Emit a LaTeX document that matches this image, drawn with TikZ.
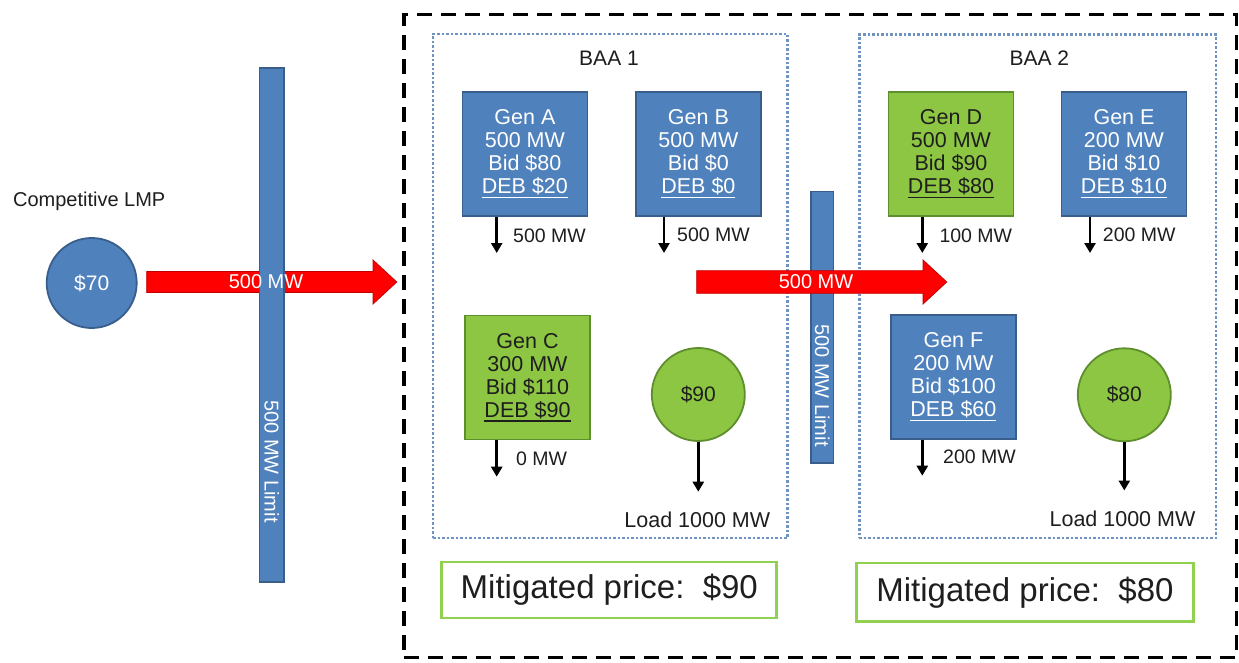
\documentclass[tikz,border=0pt]{standalone}
\usepackage{fontspec}
\setmainfont{Liberation Sans}
\usetikzlibrary{arrows.meta}
\definecolor{gblue}{HTML}{4F81BD}
\definecolor{gblueb}{HTML}{3A5E8C}
\definecolor{ggreen}{HTML}{8DC642}
\definecolor{ggreenb}{HTML}{5E8E2E}
\definecolor{mgreen}{HTML}{92D050}
\definecolor{dotblue}{HTML}{6F93C0}
\definecolor{txt}{HTML}{1E1E1E}
\definecolor{redfill}{HTML}{FF0000}
\definecolor{redline}{HTML}{C00000}
\newcommand\debul[1]{\vtop{\hbox{#1}\kern1.2pt\hrule height 1.4pt}}
\newcommand\fsz[2]{\fontsize{#1}{#2}\selectfont}
\begin{document}
\begin{tikzpicture}[x=1pt,y=-1pt,
  genbox/.style={draw, line width=1.8pt, minimum width=125pt, minimum height=124pt,
    align=center, inner sep=0pt, font=\fsz{21.5}{23}},
  genblue/.style={genbox, fill=gblue, draw=gblueb, text=white},
  gengreen/.style={genbox, fill=ggreen, draw=ggreenb, text=txt},
  flow/.style={line width=2.8pt, draw=black, -{Triangle[width=11pt,length=10pt]}},
  mwlab/.style={anchor=west, inner sep=0pt, font=\fsz{19.5}{22}, text=txt},
  loadlab/.style={inner sep=0pt, font=\fsz{21.5}{24}, text=txt},
  price/.style={circle, minimum size=93pt, line width=1.8pt, inner sep=0pt, font=\fsz{21}{24}},
  limbar/.style={draw=gblueb, fill=gblue, line width=1.2pt, inner sep=0pt},
  bartext/.style={rotate=-90, text=white, inner sep=0pt, font=\fsz{20}{22}},
  flowtext/.style={text=white, inner sep=0pt, font=\fsz{20}{22}},
  redarr/.style={fill=redfill, draw=redline, line width=0.8pt},
  dotbox/.style={draw=dotblue, line width=2.5pt, dash pattern=on 2.5pt off 2pt, inner sep=0pt},
  outerbox/.style={draw=black, line width=3.2pt, dash pattern=on 15pt off 9pt, inner sep=0pt},
  mitbox/.style={draw=mgreen, line width=2.8pt, inner sep=0pt, text=txt, font=\fsz{33}{36}},
  title/.style={inner sep=0pt, text=txt, font=\fsz{21}{24}}
]
\useasboundingbox (0,0) rectangle (1239,663);
\fill[white] (0,0) rectangle (1239,663);

% outer dashed region
\node[outerbox, minimum width=832.7pt, minimum height=642.7pt] (outer) at (820.35,336.15) {};

% BAA boxes
\node[dotbox, minimum width=354.3pt, minimum height=504pt] (baa1) at (610.15,286) {};
\node[dotbox, minimum width=356.7pt, minimum height=503.3pt] (baa2) at (1037.65,286.35) {};
\node[title] (baa1t) at (609,58) {BAA 1};
\node[title] (baa2t) at (1039.3,58) {BAA 2};

% left side
\node[inner sep=0pt, text=txt, font=\fsz{20}{22}] (cl) at (89.2,201.7) {Competitive LMP};
\node[price, fill=gblue, draw=gblueb, text=white, minimum size=90pt] (lmp) at (91.7,283) {\$70};

% first red flow (under the limit bar)
\coordinate (f1s) at (146.7,282);
\coordinate (f1t) at (396.7,282);
\fill[redarr] (f1s) ++(0,-10.5) -- ++(226.3,0) -- ++(0,-11.5) -- (f1t)
  -- ++(-23.7,22) -- ++(0,-11.5) -- ++(-226.3,0) -- cycle;
\node[limbar, minimum width=24.7pt, minimum height=514pt] (bar1) at (271.7,325) {};
\node[bartext] (bar1t) at (271.7,461.5) {500 MW Limit};
\node[flowtext] (f1l) at (266,282) {500 MW};

% middle limit bar, then second red flow on top
\node[limbar, minimum width=22.3pt, minimum height=271.3pt] (bar2) at (822.2,327.3) {};
\node[bartext] (bar2t) at (822.2,385.5) {500 MW Limit};
\coordinate (f2s) at (696.7,282);
\coordinate (f2t) at (946.7,282);
\fill[redarr] (f2s) ++(0,-11.3) -- ++(226.3,0) -- ++(0,-10.7) -- (f2t)
  -- ++(-23.7,22) -- ++(0,-10.7) -- ++(-226.3,0) -- cycle;
\node[flowtext] (f2l) at (816,282) {500 MW};

% BAA 1 generators
\node[genblue] (genA) at (524.9,153.9) {Gen A\\500 MW\\Bid \$80\\\debul{DEB \$20}};
\node[genblue] (genB) at (698.4,153.9) {Gen B\\500 MW\\Bid \$0\\\debul{DEB \$0}};
\node[gengreen] (genC) at (527.5,377.5) {Gen C\\300 MW\\Bid \$110\\\debul{DEB \$90}};
\node[price, fill=ggreen, draw=ggreenb, text=txt] (p1) at (698.3,394.5) {\$90};

% BAA 2 generators
\node[gengreen] (genD) at (951,153.9) {Gen D\\500 MW\\Bid \$90\\\debul{DEB \$80}};
\node[genblue] (genE) at (1124,153.9) {Gen E\\200 MW\\Bid \$10\\\debul{DEB \$10}};
\node[genblue] (genF) at (953.4,377) {Gen F\\200 MW\\Bid \$100\\\debul{DEB \$60}};
\node[price, fill=ggreen, draw=ggreenb, text=txt] (p2) at (1124.3,394.8) {\$80};

% output arrows
\coordinate (aA) at (496.7,253);
\coordinate (aB) at (664,253);
\coordinate (aC) at (496.7,476.7);
\coordinate (aD) at (922.3,253);
\coordinate (aE) at (1090,253);
\coordinate (aF) at (922.3,475.7);
\coordinate (l1) at (698.3,491.7);
\coordinate (l2) at (1124.3,490.5);
\draw[flow] (genA.south -| aA) -- (aA);
\draw[flow] (genB.south -| aB) -- (aB);
\draw[flow] (genC.south -| aC) -- (aC);
\draw[flow] (genD.south -| aD) -- (aD);
\draw[flow] (genE.south -| aE) -- (aE);
\draw[flow] (genF.south -| aF) -- (aF);
\draw[flow] (p1.south) -- (l1);
\draw[flow] (p2.south) -- (l2);

\node[mwlab] (mA) at (513,236) {500 MW};
\node[mwlab] (mB) at (677,235) {500 MW};
\node[mwlab] (mC) at (516,459) {0 MW};
\node[mwlab] (mD) at (939.3,236) {100 MW};
\node[mwlab] (mE) at (1102.7,235) {200 MW};
\node[mwlab] (mF) at (943,457) {200 MW};
\node[loadlab] (ld1) at (697.3,520) {Load 1000 MW};
\node[loadlab] (ld2) at (1122.5,519) {Load 1000 MW};

% mitigated prices
\node[mitbox, minimum width=335pt, minimum height=56pt] (mit1) at (609.3,589.9) {Mitigated price:\ \ \$90};
\node[mitbox, minimum width=336.6pt, minimum height=58.6pt] (mit2) at (1025,592.3) {Mitigated price:\ \ \$80};
\end{tikzpicture}
\end{document}
